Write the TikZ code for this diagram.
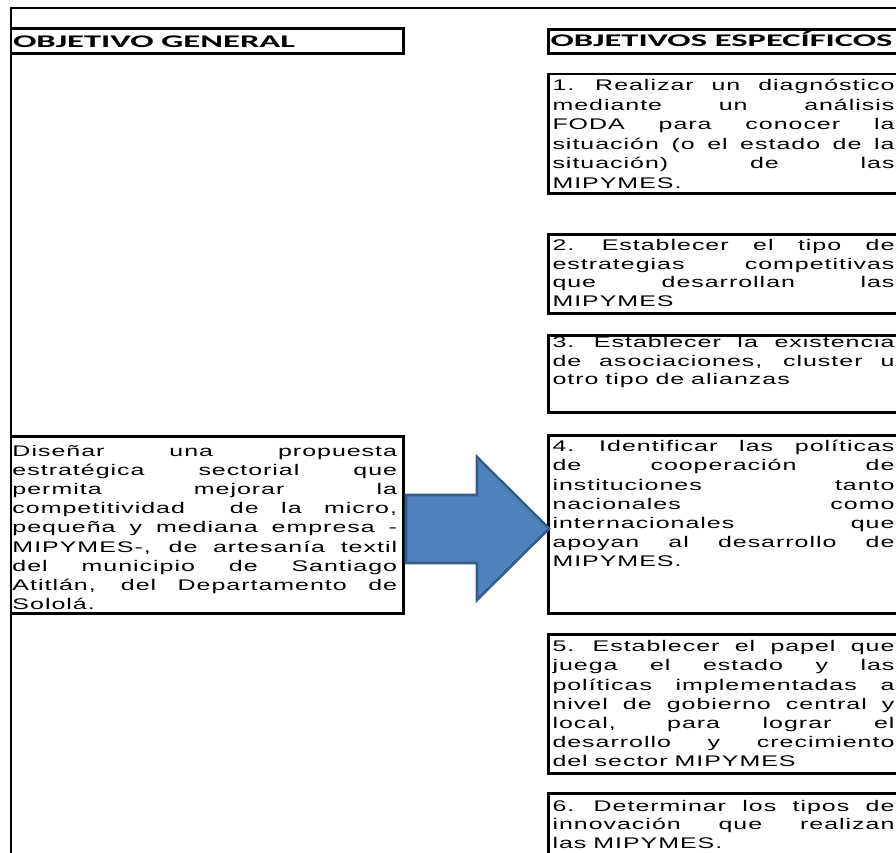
\documentclass[tikz,border=0pt]{standalone}
\usepackage{fontspec}
\usepackage{graphicx}
\newfontfamily\bodyfont[LetterSpace=4]{Liberation Sans}
\newfontfamily\headfont{Carlito}
\definecolor{arrowfill}{HTML}{4F81BD}
\definecolor{arrowline}{HTML}{385D8A}
\newcommand\jl[1]{\hbox to\linewidth{\spaceskip=.278em plus 1fil\relax\xspaceskip=.4em plus 1fil\relax #1}}
\newcommand\lastl[1]{\hbox{\spaceskip=.278em\relax\xspaceskip=.278em\relax #1}}
\newcommand\txtblock[3]{\scalebox{1.62}[1]{\parbox[t]{#1}{\bodyfont\fontsize{15.4}{#2}\selectfont #3}}}
\begin{document}
\begin{tikzpicture}[x=1pt,y=-1pt,
  frame/.style={line width=2.4pt,black},
  boxline/.style={line width=2.9pt,black,line join=miter},
  body/.style={inner sep=0pt,outer sep=0pt,anchor=base west},
  head/.style={inner sep=0pt,outer sep=0pt,anchor=base west},
  bigarrow/.style={line width=2.6pt,draw=arrowline,fill=arrowfill,line join=miter}]
\useasboundingbox (0,0) rectangle (896,852);
\clip (0,0) rectangle (896,852);
% outer frame
\draw[frame] (10.7,7.8) -- (900,7.8);
\draw[frame] (10.7,6.6) -- (10.7,860);
% header boxes
\draw[boxline] (10.7,28.8) -- (403.8,28.8) -- (403.8,53.3) -- (10.7,53.3);
\draw[boxline] (900,29.5) -- (548.3,29.5) -- (548.3,53.7) -- (900,53.7);
\node[head] (hg) at (13,47.3) {\resizebox{282pt}{\height}{\headfont\bfseries\fontsize{17.8}{20}\selectfont OBJETIVO GENERAL}};
\node[head] (he) at (550.5,46.8) {\resizebox{342pt}{\height}{\headfont\bfseries\fontsize{17.8}{20}\selectfont OBJETIVOS ESPECÍFICOS}};
% right boxes
\draw[boxline] (900,74) -- (548.3,74) -- (548.3,193.3) -- (900,193.3);
\draw[boxline] (900,234.7) -- (548.3,234.7) -- (548.3,313.3) -- (900,313.3);
\draw[boxline] (900,335.8) -- (548.3,335.8) -- (548.3,412.7) -- (900,412.7);
\draw[boxline] (900,435.3) -- (548.3,435.3) -- (548.3,613.3) -- (900,613.3);
\draw[boxline] (900,634.3) -- (548.3,634.3) -- (548.3,773.3) -- (900,773.3);
\draw[boxline] (900,793.3) -- (548.3,793.3) -- (548.3,860);
% left box
\draw[boxline] (10.7,436.2) -- (403.8,436.2) -- (403.8,613.8) -- (10.7,613.8);
% texts
\node[body] (o1) at (552.5,90.5) {\txtblock{211.1pt}{19.5pt}{%
\jl{1. Realizar un diagnóstico}
\jl{mediante un análisis}
\jl{FODA para conocer la}
\jl{situación (o el estado de la}
\jl{situación) de las}
\lastl{MIPYMES.}}};
\node[body] (o2) at (552.5,250.5) {\txtblock{211.1pt}{18.5pt}{%
\jl{2. Establecer el tipo de}
\jl{estrategias competitivas}
\jl{que desarrollan las}
\lastl{MIPYMES}}};
\node[body] (o3) at (552.5,347.7) {\txtblock{211.1pt}{18.5pt}{%
\jl{3. Establecer la existencia}
\jl{de asociaciones, cluster u}
\lastl{otro tipo de alianzas}}};
\node[body] (o4) at (552.5,451.7) {\txtblock{211.1pt}{19.2pt}{%
\jl{4. Identificar las políticas}
\jl{de cooperación de}
\jl{instituciones tanto}
\jl{nacionales como}
\jl{internacionales que}
\jl{apoyan al desarrollo de}
\lastl{MIPYMES.}}};
\node[body] (o5) at (552.5,651.7) {\txtblock{211.1pt}{19.2pt}{%
\jl{5. Establecer el papel que}
\jl{juega el estado y las}
\jl{políticas implementadas a}
\jl{nivel de gobierno central y}
\jl{local, para lograr el}
\jl{desarrollo y crecimiento}
\lastl{del sector MIPYMES}}};
\node[body] (o6) at (552.5,811) {\txtblock{211.1pt}{18.5pt}{%
\jl{6. Determinar los tipos de}
\jl{innovación que realizan}
\lastl{las MIPYMES.}}};
\node[body] (og) at (12.5,456) {\txtblock{237.4pt}{19.2pt}{%
\jl{Diseñar una propuesta}
\jl{estratégica sectorial que}
\jl{permita mejorar la}
\jl{competitividad\ \ de la micro,}
\jl{pequeña y mediana empresa -}
\jl{MIPYMES-, de artesanía textil}
\jl{del municipio de Santiago}
\jl{Atitlán, del Departamento de}
\lastl{Sololá.}}};
% arrow
\draw[bigarrow] (406,495) -- (477,495) -- (477,457) -- (549,528.5) -- (477,600) -- (477,563) -- (406,563) -- cycle;
\end{tikzpicture}
\end{document}
